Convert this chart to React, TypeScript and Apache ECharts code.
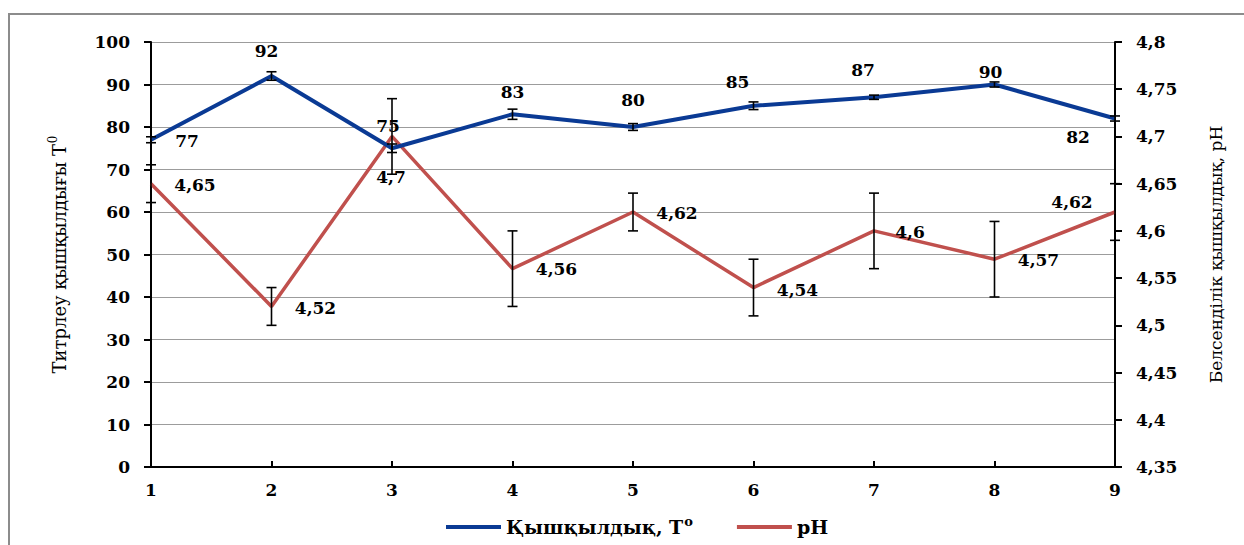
import { useEffect, useRef } from 'react';
import * as echarts from 'echarts';

// Sample numbers along the x axis
const samples = ['1', '2', '3', '4', '5', '6', '7', '8', '9'];

// Titratable acidity, T°
const acidity = [77, 92, 75, 83, 80, 85, 87, 90, 82];
const acidityErr = [0.7, 1, 1, 1.2, 0.8, 0.9, 0.5, 0.6, 0.6];

// Active acidity, pH
const ph = [4.65, 4.52, 4.7, 4.56, 4.62, 4.54, 4.6, 4.57, 4.62];
const phErr = [0.02, 0.02, 0.04, 0.04, 0.02, 0.03, 0.04, 0.04, 0.03];

// Label placement (pixel offsets from each point)
const acidityLabelOffset = [
  [36, 1], [-5, -25], [-4, -22], [0, -22], [0, -27], [-16, -24], [-11, -27], [-4, -13], [-37, 18],
];
const phLabelOffset = [
  [44, 1], [44, 2], [-1, 41], [44, 0], [44, 1], [44, 2], [36, 1], [44, 1], [-43, -10],
];

const FONT = "'DejaVu Serif', 'Liberation Serif', serif";
const BLUE = '#0a3a94';
const RED = '#c0504d';

const fmtComma = (v: number) => String(Math.round(v * 100) / 100).replace('.', ',');

function errorBars(values: number[], errs: number[]) {
  return values.map((v, i) => [i, v - errs[i], v + errs[i]]);
}

function renderErrorBar(params: any, api: any) {
  const idx = api.value(0);
  const top = api.coord([idx, api.value(2)]);
  const bottom = api.coord([idx, api.value(1)]);
  const half = 5;
  const style = { stroke: '#000', lineWidth: 1.6 };
  return {
    type: 'group',
    children: [
      { type: 'line', shape: { x1: top[0], y1: top[1], x2: bottom[0], y2: bottom[1] }, style },
      { type: 'line', shape: { x1: top[0] - half, y1: top[1], x2: top[0] + half, y2: top[1] }, style },
      { type: 'line', shape: { x1: bottom[0] - half, y1: bottom[1], x2: bottom[0] + half, y2: bottom[1] }, style },
    ],
  };
}

export default function App() {
  const ref = useRef<HTMLDivElement>(null);

  useEffect(() => {
    if (!ref.current) return;
    const chart = echarts.init(ref.current, undefined, { renderer: 'svg' });

    const labelBase = {
      show: true,
      position: 'inside',
      color: '#000',
      fontFamily: FONT,
      fontWeight: 'bold',
      fontSize: 17,
    };

    const tickLabel = { color: '#000', fontFamily: FONT, fontWeight: 'bold', fontSize: 17 };

    chart.setOption({
      animation: false,
      backgroundColor: '#fff',
      textStyle: { fontFamily: FONT },
      graphic: [
        {
          type: 'rect',
          shape: { x: 9, y: 14, width: 1270, height: 570 },
          style: { fill: 'none', stroke: '#8c8c8c', lineWidth: 2 },
          silent: true,
        },
      ],
      grid: { left: 151, right: 129, top: 42, bottom: 78 },
      legend: {
        left: 441,
        top: 510,
        itemWidth: 55,
        itemHeight: 4,
        itemGap: 44,
        icon: 'rect',
        data: ['Қышқылдық, T', 'pH'],
        formatter: (name: string) => (name === 'pH' ? `{b|${name}}` : `{b|${name}}{s|o}`),
        textStyle: {
          fontFamily: FONT,
          fontWeight: 'bold',
          fontSize: 19,
          color: '#000',
          rich: {
            b: { fontFamily: FONT, fontWeight: 'bold', fontSize: 19, color: '#000', lineHeight: 24 },
            s: { fontFamily: FONT, fontWeight: 'bold', fontSize: 13, color: '#000', lineHeight: 24, verticalAlign: 'top', padding: [0, 0, 8, 1] },
          },
        },
      },
      xAxis: {
        type: 'category',
        data: samples,
        boundaryGap: false,
        axisLine: { lineStyle: { color: '#000', width: 2 } },
        axisTick: { inside: true, length: 6, lineStyle: { color: '#000', width: 2 } },
        axisLabel: { ...tickLabel, margin: 14 },
        splitLine: { show: false },
      },
      yAxis: [
        {
          type: 'value',
          min: 0,
          max: 100,
          interval: 10,
          name: '{n|Титрлеу қышқылдығы T}{s|0}',
          nameLocation: 'middle',
          nameRotate: 90,
          nameGap: 80,
          nameTextStyle: {
            rich: {
              n: { fontFamily: FONT, fontSize: 18, color: '#000', lineHeight: 24 },
              s: { fontFamily: FONT, fontSize: 12, color: '#000', lineHeight: 24, verticalAlign: 'top', padding: [0, 0, 10, 1] },
            },
          },
          axisLine: { show: true, lineStyle: { color: '#000', width: 2 } },
          axisTick: { show: true, length: 7, lineStyle: { color: '#000', width: 2 } },
          axisLabel: { ...tickLabel, margin: 21 },
          splitLine: { show: true, lineStyle: { color: '#9c9c9c', width: 1 } },
        },
        {
          type: 'value',
          min: 4.35,
          max: 4.8,
          interval: 0.05,
          position: 'right',
          name: 'Белсенділік қышқылдық, pH',
          nameLocation: 'middle',
          nameRotate: 90,
          nameGap: 92,
          nameTextStyle: { fontFamily: FONT, fontSize: 17, color: '#000' },
          axisLine: { show: true, lineStyle: { color: '#000', width: 2 } },
          axisTick: { show: true, length: 7, lineStyle: { color: '#000', width: 2 } },
          axisLabel: { ...tickLabel, margin: 21, formatter: fmtComma },
          splitLine: { show: false },
        },
      ],
      series: [
        {
          name: 'Қышқылдық, T',
          type: 'line',
          yAxisIndex: 0,
          symbol: 'circle',
          symbolSize: 1,
          showSymbol: true,
          lineStyle: { color: BLUE, width: 4 },
          itemStyle: { color: BLUE },
          z: 3,
          data: acidity.map((v, i) => ({
            value: v,
            label: { ...labelBase, offset: acidityLabelOffset[i] },
          })),
        },
        {
          name: 'pH',
          type: 'line',
          yAxisIndex: 1,
          symbol: 'circle',
          symbolSize: 1,
          showSymbol: true,
          lineStyle: { color: RED, width: 3.5 },
          itemStyle: { color: RED },
          z: 2,
          data: ph.map((v, i) => ({
            value: v,
            label: { ...labelBase, offset: phLabelOffset[i], formatter: (p: any) => fmtComma(p.value) },
          })),
        },
        {
          type: 'custom',
          yAxisIndex: 0,
          renderItem: renderErrorBar,
          encode: { x: 0, y: [1, 2] },
          data: errorBars(acidity, acidityErr),
          clip: false,
          z: 4,
          silent: true,
        },
        {
          type: 'custom',
          yAxisIndex: 1,
          renderItem: renderErrorBar,
          encode: { x: 0, y: [1, 2] },
          data: errorBars(ph, phErr),
          clip: false,
          z: 4,
          silent: true,
        },
      ],
    });

    return () => chart.dispose();
  }, []);

  return (
    <div
      ref={ref}
      style={{ position: 'absolute', left: 0, top: 0, width: 1244, height: 545 }}
    />
  );
}
